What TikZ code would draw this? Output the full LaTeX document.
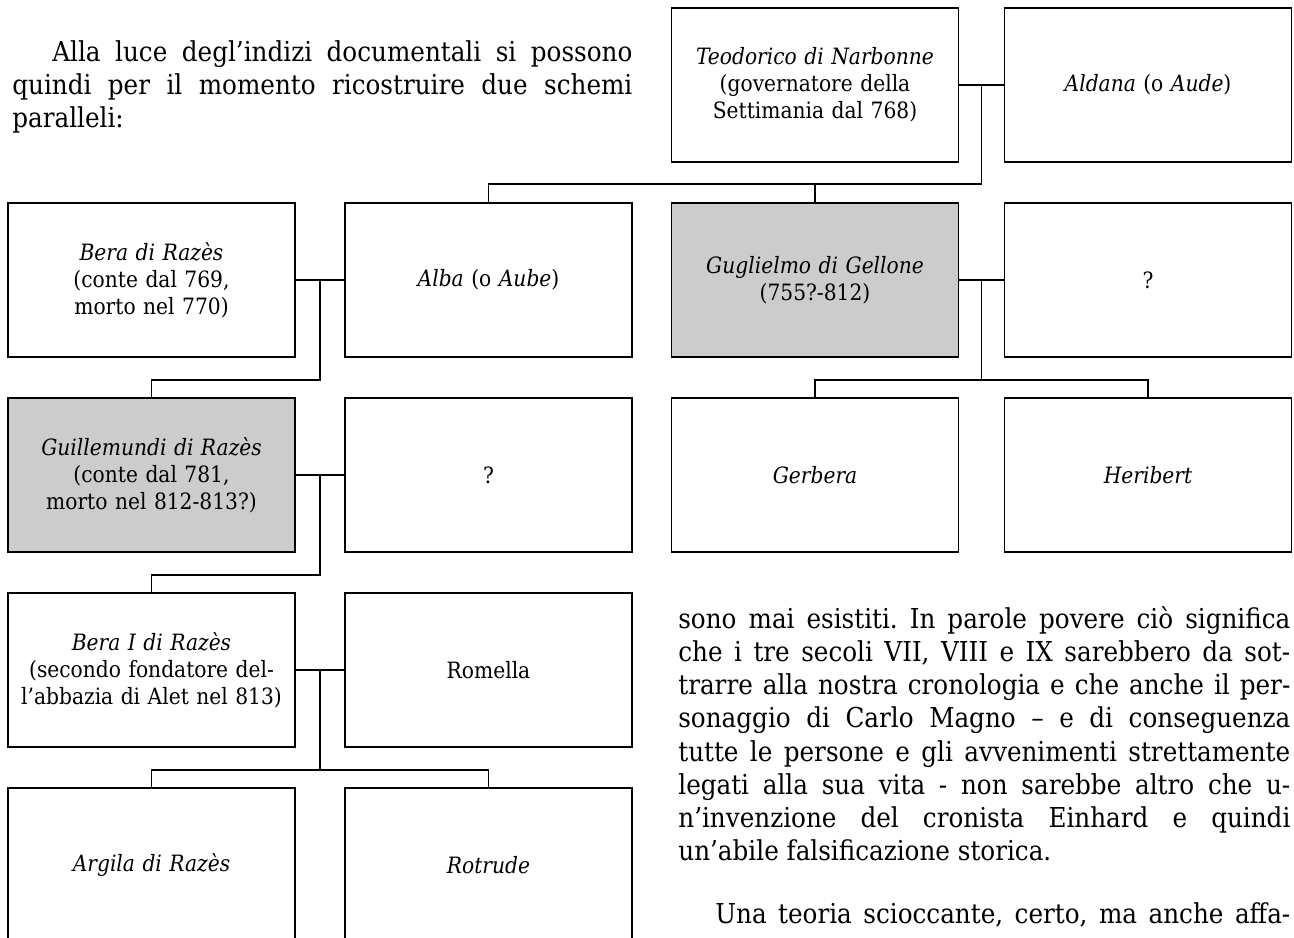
\documentclass[tikz,border=0pt]{standalone}
\usepackage{fontspec}
\setmainfont{DejaVu Serif Condensed}
\usetikzlibrary{calc}

\newcommand\boxfont{\fontsize{12.8}{15.4}\selectfont}
\newcommand\prosefont{\fontsize{15.6}{18.9}\selectfont\frenchspacing\hyphenpenalty=10000\emergencystretch=2em}

\begin{document}
\begin{tikzpicture}[x=0.02cm, y=-0.02cm,
	% boxes of the family tree
	person/.style={draw, line width=0.9pt, minimum width=5.74cm, minimum height=3.08cm,
		text width=5.6cm, align=center, inner sep=0pt, font=\boxfont},
	known/.style={person, fill=black!20},
	link/.style={line width=0.8pt},
	prose/.style={anchor=north west, inner sep=0pt, align=justify, font=\prosefont},
	]
	\useasboundingbox (0,0) rectangle (1294,937);

	% Text round the scheme
	\node[prose, text width=12.4cm] (intro) at (12,40)
	{\hspace*{0.8cm}Alla luce degl’indizi documentali si possono\linebreak
		quindi per il momento ricostruire due schemi\linebreak
		paralleli:};
	\node[prose, text width=12.24cm] (sequel) at (678,606)
	{sono mai esistiti. In parole povere ciò significa\linebreak
		che i tre secoli VII, VIII e IX sarebbero da sot-\linebreak
		trarre alla nostra cronologia e che anche il per-\linebreak
		sonaggio di Carlo Magno – e di conseguenza\linebreak
		tutte le persone e gli avvenimenti strettamente\linebreak
		legati alla sua vita - non sarebbe altro che u-\linebreak
		n’invenzione del cronista Einhard e quindi\linebreak
		un’abile falsificazione storica.\par
		\vspace{0.6cm}
		\parfillskip=0pt\hspace*{0.74cm}Una teoria scioccante, certo, ma anche affa-\par};

	% First scheme
	\node[person] (teodorico) at (815,85)
	{\textit{Teodorico di Narbonne}\\(governatore della\\Settimania dal 768)};
	\node[person] (aldana) at (1148,85) {\textit{Aldana} (o \textit{Aude})};
	\node[person] (bera) at (151.5,280)
	{\textit{Bera di Razès}\\(conte dal 769,\\morto nel 770)};
	\node[person] (alba) at (488.5,280) {\textit{Alba} (o \textit{Aube})};
	\node[known] (guillemundi) at (151.5,475)
	{\textit{Guillemundi di Razès}\\(conte dal 781,\\morto nel 812-813?)};
	\node[person] (guilwife) at (488.5,475) {?};
	\node[person] (beraI) at (151.5,670)
	{\textit{Bera I di Razès}\\(secondo fondatore del-\\l’abbazia di Alet nel 813)};
	\node[person] (romella) at (488.5,670) {Romella};
	\node[person] (argila) at (151.5,865) {\textit{Argila di Razès}};
	\node[person] (rotrude) at (488.5,865) {\textit{Rotrude}};

	% Second scheme
	\node[known] (guglielmo) at (815,280)
	{\textit{Guglielmo di Gellone}\\(755?-812)};
	\node[person] (gugwife) at (1148,280) {?};
	\node[person] (gerbera) at (815,475) {\textit{Gerbera}};
	\node[person] (heribert) at (1148,475) {\textit{Heribert}};

	% Marriages
	\draw[link] (teodorico) -- (aldana);
	\draw[link] (bera) -- (alba);
	\draw[link] (guillemundi) -- (guilwife);
	\draw[link] (beraI) -- (romella);
	\draw[link] (guglielmo) -- (gugwife);

	% Children
	\coordinate (tm) at ($(teodorico.east)!.5!(aldana.west)$);
	\coordinate (bm) at ($(bera.east)!.5!(alba.west)$);
	\coordinate (gm) at ($(guillemundi.east)!.5!(guilwife.west)$);
	\coordinate (rm) at ($(beraI.east)!.5!(romella.west)$);
	\coordinate (wm) at ($(guglielmo.east)!.5!(gugwife.west)$);

	\draw[link] (tm) -- ++(0,99) -| (alba.north);
	\draw[link] (guglielmo.north) -- ++(0,-19);
	\draw[link] (bm) -- ++(0,100) -| (guillemundi.north);
	\draw[link] (gm) -- ++(0,100) -| (beraI.north);
	\draw[link] (rm) -- ++(0,100) -| (argila.north);
	\draw[link] (rm) ++(0,100) -| (rotrude.north);
	\draw[link] (wm) -- ++(0,100) -| (gerbera.north);
	\draw[link] (wm) ++(0,100) -| (heribert.north);
\end{tikzpicture}
\end{document}
